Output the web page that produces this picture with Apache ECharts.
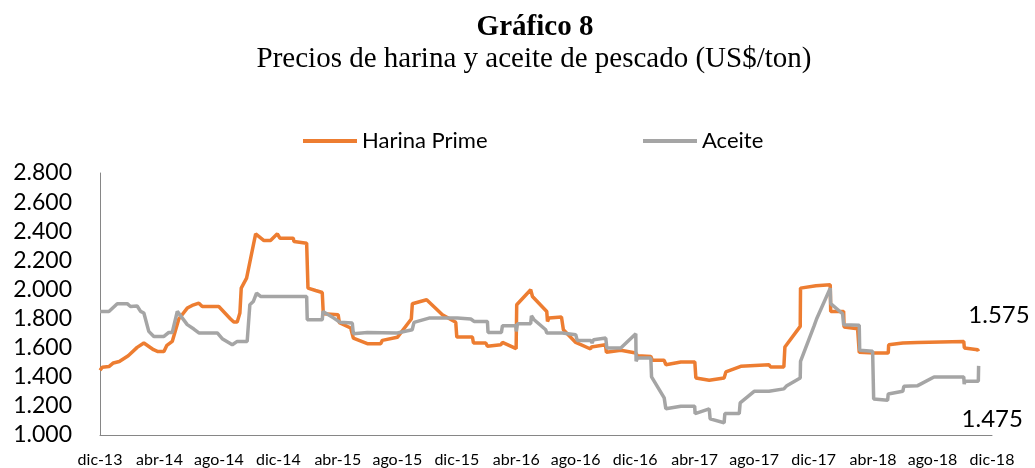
<!DOCTYPE html>
<html>
<head>
<meta charset="utf-8">
<script src="https://cdn.jsdelivr.net/npm/echarts@6/dist/echarts.min.js"></script>
<style>
  html, body { margin: 0; padding: 0; background: #fff; }
  #main { width: 1035px; height: 468px; }
</style>
</head>
<body>
<div id="main"></div>
<script>
// etiquetas del eje x (cada 4 meses, desde dic-13)
var mesesLabels = ['dic-13', 'abr-14', 'ago-14', 'dic-14', 'abr-15', 'ago-15', 'dic-15', 'abr-16',
  'ago-16', 'dic-16', 'abr-17', 'ago-17', 'dic-17', 'abr-18', 'ago-18', 'dic-18'];

// Harina Prime: meses desde dic-13 y precio (US$/ton)
var harinaMes = [0, 0.15, 0.6, 0.9, 1.3, 1.9, 2.5, 2.95, 3.6, 3.9, 4.3, 4.5, 4.86, 5.3, 5.87, 6.2, 6.65, 6.88,
  7.99, 8.78, 9.0, 9.23, 9.41, 9.5, 9.86, 10.47, 11.03, 11.47, 11.93, 12.1, 13.0, 13.05, 13.9, 13.99,
  14.5, 14.95, 15.02, 16.02, 16.1, 16.86, 17.04, 17.98, 18.88, 18.99, 20.0, 20.94, 21.01, 21.97, 23.03,
  23.93, 24.0, 25.05, 25.12, 25.95, 26.06, 26.96, 27.07, 27.99, 28.03, 28.97, 29.09, 30.05, 30.1, 30.2,
  31.04, 31.17, 32.0, 33.0, 33.05, 34.0, 34.06, 35.03, 36.04, 36.15, 37.05, 37.16, 37.95, 38.06, 39.07,
  40.01, 40.08, 40.98, 41.98, 42.1, 43.1, 45.0, 45.1, 46.0, 46.07, 47.1, 47.12, 48.16, 49.12, 49.15,
  50.02, 50.05, 50.96, 51.07, 52.08, 53.02, 53.05, 54.0, 55.0, 55.05, 58.1, 58.14, 59.04, 59.08];
var harinaVal = [1445, 1465, 1470, 1495, 1505, 1545, 1602, 1632, 1586, 1573, 1573, 1616, 1643, 1797, 1872, 1890, 1906, 1883,
  1883, 1797, 1776, 1776, 1838, 2009, 2078, 2382, 2336, 2336, 2382, 2352, 2352, 2329, 2318, 2009,
  1993, 1979, 1833, 1826, 1772, 1735, 1666, 1627, 1627, 1650, 1671, 1797, 1902, 1929, 1826,
  1774, 1673, 1673, 1632, 1632, 1609, 1620, 1636, 1593, 1895, 1998, 1952, 1849, 1780, 1803,
  1810, 1723, 1636, 1591, 1605, 1620, 1568, 1582, 1563, 1545, 1540, 1513, 1513, 1483, 1502,
  1502, 1392, 1376, 1392, 1433, 1472, 1483, 1468, 1468, 1605, 1746, 2009, 2025, 2032, 1849,
  1849, 1742, 1730, 1568, 1563, 1563, 1620, 1632, 1636, 1643, 1643, 1598, 1586, 1575];

// Aceite
var aceiteMes = [0, 0.6, 1.16, 1.83, 2.05, 2.5, 2.73, 2.95, 3.28, 3.62, 4.3, 4.63, 4.86, 5.2, 5.87, 6.31, 6.65,
  7.89, 8.22, 8.9, 9.23, 9.9, 10.08, 10.31, 10.53, 10.8, 13.9, 13.94, 14.95, 15.0, 15.73, 16.14, 16.97,
  17.04, 17.98, 20.0, 21.0, 21.12, 22.13, 24.04, 24.94, 25.16, 26.06, 26.1, 27.0, 27.07, 27.97, 28.0,
  28.08, 28.97, 29.02, 29.2, 29.98, 30.05, 31.1, 32.0, 32.1, 33.0, 33.1, 33.2, 34.02, 34.09, 35.03,
  36.04, 36.06, 36.15, 37.05, 37.1, 37.95, 38.06, 39.07, 40.0, 40.03, 40.98, 41.04, 41.98, 42.03, 43.0,
  43.06, 44.0, 45.0, 46.0, 46.2, 47.1, 47.12, 48.04, 48.2, 49.12, 49.15, 49.95, 50.02, 51.07, 51.1,
  51.97, 52.04, 52.98, 53.02, 54.0, 54.07, 55.0, 56.1, 58.1, 58.13, 58.18, 59.08, 59.1];
var aceiteVal = [1849, 1849, 1902, 1902, 1883, 1886, 1849, 1838, 1712, 1677, 1677, 1705, 1705, 1849, 1758, 1728, 1701,
  1701, 1662, 1620, 1643, 1643, 1895, 1917, 1975, 1952, 1952, 1792, 1792, 1849, 1803, 1774, 1769,
  1696, 1705, 1701, 1723, 1774, 1803, 1803, 1797, 1780, 1780, 1705, 1705, 1751, 1751, 1712,
  1765, 1765, 1819, 1792, 1723, 1701, 1701, 1689, 1650, 1650, 1632, 1655, 1666, 1598, 1598,
  1696, 1506, 1529, 1529, 1399, 1255, 1180, 1198, 1198, 1147, 1180, 1111, 1084, 1147, 1147,
  1221, 1300, 1300, 1317, 1339, 1392, 1506, 1751, 1797, 2009, 1902, 1833, 1758, 1754, 1582,
  1575, 1248, 1239, 1282, 1300, 1335, 1339, 1399, 1399, 1350, 1369, 1369, 1475];

function pares(xs, ys) {
  var out = [];
  for (var i = 0; i < xs.length; i++) out.push([xs[i], ys[i]]);
  return out;
}
function miles(v) {
  return String(Math.round(v)).replace(/\B(?=(\d{3})+(?!\d))/g, '.');
}

var chart = echarts.init(document.getElementById('main'));
var fuente = 'Lato';
var option = {
  animation: false,
  title: [
    {
      text: 'Gráfico 8', left: 530, top: 8, textAlign: 'center',
      textStyle: { fontFamily: 'Liberation Serif', fontWeight: 'bold', fontSize: 29, color: '#000' }
    },
    {
      text: 'Precios de harina y aceite de pescado (US$/ton)', left: 529, top: 40, textAlign: 'center',
      textStyle: { fontFamily: 'Liberation Serif', fontWeight: 'normal', fontSize: 29, color: '#000' }
    }
  ],
  legend: [
    {
      data: ['Harina Prime'], left: 303, top: 130, padding: 0, icon: 'rect', itemWidth: 54, itemHeight: 4,
      textStyle: { fontFamily: fuente, fontSize: 22, color: '#000' }
    },
    {
      data: ['Aceite'], left: 643, top: 130, padding: 0, icon: 'rect', itemWidth: 54, itemHeight: 4,
      textStyle: { fontFamily: fuente, fontSize: 22, color: '#000' }
    }
  ],
  grid: { left: 100, right: 43, top: 173, bottom: 33, containLabel: false },
  xAxis: {
    type: 'value', min: 0, max: 60, interval: 4,
    axisLine: { show: true, lineStyle: { color: '#868686', width: 1 } },
    axisTick: { show: false },
    splitLine: { show: false },
    axisLabel: {
      fontFamily: fuente, fontSize: 16, color: '#000', margin: 17,
      formatter: function (v) { return mesesLabels[Math.round(v / 4)] || ''; }
    }
  },
  yAxis: {
    type: 'value', min: 1000, max: 2800, interval: 200,
    axisLine: { show: true, lineStyle: { color: '#868686', width: 1 } },
    axisTick: { show: false },
    splitLine: { show: false },
    axisLabel: {
      fontFamily: fuente, fontSize: 23, color: '#000', margin: 28,
      formatter: function (v) { return miles(v); }
    }
  },
  series: [
    {
      name: 'Harina Prime', type: 'line', symbol: 'none', color: '#ED7D31',
      lineStyle: { width: 3.5, color: '#ED7D31' },
      data: pares(harinaMes, harinaVal),
      endLabel: {
        show: true, distance: 0, offset: [-10, -36],
        fontFamily: fuente, fontSize: 24, color: '#000',
        formatter: function (p) { return miles(p.value[1]); }
      }
    },
    {
      name: 'Aceite', type: 'line', symbol: 'none', color: '#A5A5A5',
      lineStyle: { width: 3.5, color: '#A5A5A5' },
      data: pares(aceiteMes, aceiteVal),
      endLabel: {
        show: true, distance: 0, offset: [-17, 53],
        fontFamily: fuente, fontSize: 24, color: '#000',
        formatter: function (p) { return miles(p.value[1]); }
      }
    }
  ]
};
chart.setOption(option);
</script>
</body>
</html>
